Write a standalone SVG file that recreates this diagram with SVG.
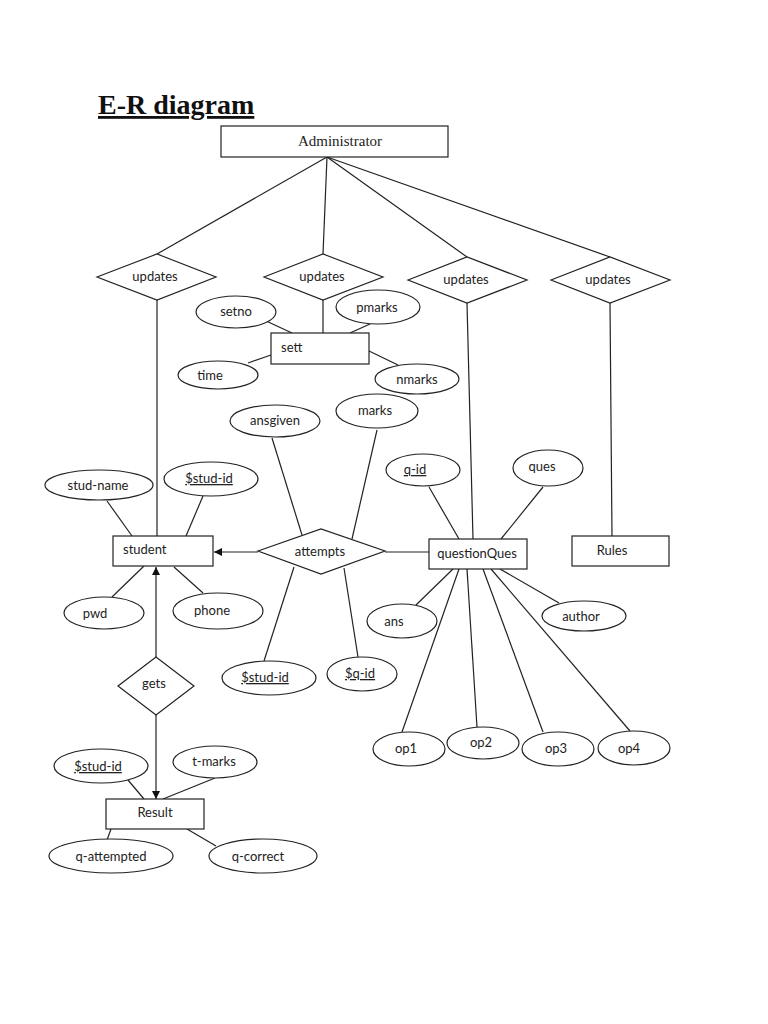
<svg xmlns="http://www.w3.org/2000/svg" width="768" height="1024" viewBox="0 0 768 1024">
<style>
.s{fill:#fff;stroke:#222;stroke-width:1.2}
.c line{stroke:#222;stroke-width:1.2}
.t{font-family:Lato,"Liberation Sans",sans-serif;font-size:13px;fill:#222;text-anchor:middle}
.u{text-decoration:underline}
.l{text-anchor:start}
</style>
<defs>
<marker id="ah" viewBox="0 0 10 10" refX="10" refY="5" markerWidth="8" markerHeight="8" markerUnits="userSpaceOnUse" orient="auto">
<path d="M0,0 L10,5 L0,10 Z" fill="#111"/>
</marker>
</defs>
<rect width="768" height="1024" fill="#fff"/>
<text x="98" y="114" font-family="'Liberation Serif',serif" font-weight="bold" font-size="28" text-decoration="underline" fill="#111">E-R diagram</text>

<g class="c" id="connectors">
<line x1="327" y1="157" x2="157" y2="254"/>
<line x1="327" y1="157" x2="323" y2="254"/>
<line x1="327" y1="157" x2="467" y2="257"/>
<line x1="327" y1="157" x2="610" y2="257"/>
<line x1="157" y1="300" x2="157" y2="536"/>
<line x1="323" y1="300" x2="323" y2="333"/>
<line x1="467" y1="303" x2="473" y2="539"/>
<line x1="610" y1="303" x2="612" y2="536"/>
<line x1="264" y1="320" x2="292" y2="333"/>
<line x1="350" y1="333" x2="370" y2="324"/>
<line x1="248" y1="363" x2="271" y2="355"/>
<line x1="369" y1="351" x2="398" y2="365"/>
<line x1="272" y1="438" x2="302" y2="535"/>
<line x1="377" y1="430" x2="352" y2="539"/>
<line x1="107" y1="501" x2="132" y2="536"/>
<line x1="203" y1="496" x2="186" y2="536"/>
<line x1="112" y1="597" x2="144" y2="566"/>
<line x1="174" y1="567" x2="203" y2="593"/>
<line x1="258" y1="552" x2="214" y2="552" marker-end="url(#ah)"/>
<line x1="385" y1="552" x2="429" y2="552"/>
<line x1="294" y1="567" x2="264" y2="661"/>
<line x1="344" y1="568" x2="358" y2="657"/>
<line x1="429" y1="487" x2="459" y2="539"/>
<line x1="543" y1="487" x2="501" y2="539"/>
<line x1="416" y1="605" x2="453" y2="569"/>
<line x1="500" y1="569" x2="559" y2="603"/>
<line x1="459" y1="569" x2="402" y2="732"/>
<line x1="467" y1="569" x2="477" y2="727"/>
<line x1="483" y1="569" x2="543" y2="732"/>
<line x1="491" y1="569" x2="630" y2="731"/>
<line x1="156" y1="657" x2="156" y2="567" marker-end="url(#ah)"/>
<line x1="156" y1="715" x2="156" y2="799" marker-end="url(#ah)"/>
<line x1="128" y1="780" x2="144" y2="799"/>
<line x1="215" y1="778" x2="163" y2="799"/>
<line x1="111" y1="829" x2="107" y2="840"/>
<line x1="187" y1="829" x2="216" y2="846"/>
</g>

<g id="administrator"><rect class="s" x="221" y="126" width="227" height="31"/><text x="340" y="146" font-family="'Liberation Serif',serif" font-size="15" text-anchor="middle" fill="#222">Administrator</text></g>

<g id="updates1"><polygon class="s" points="97,277 157,254 216,277 157,300"/><text class="t" x="155" y="281">updates</text></g>
<g id="updates2"><polygon class="s" points="264,277 323,254 383,277 323,300"/><text class="t" x="322" y="281">updates</text></g>
<g id="updates3"><polygon class="s" points="408,280 467,257 527,280 467,303"/><text class="t" x="466" y="284">updates</text></g>
<g id="updates4"><polygon class="s" points="551,280 610,257 670,280 610,303"/><text class="t" x="608" y="284">updates</text></g>

<g id="sett"><rect class="s" x="271" y="333" width="98" height="31"/><text class="t l" x="281" y="352">sett</text></g>
<g id="setno"><ellipse class="s" cx="236" cy="312" rx="40" ry="16"/><text class="t" x="236" y="316">setno</text></g>
<g id="pmarks"><ellipse class="s" cx="378" cy="307" rx="42" ry="17"/><text class="t" x="377" y="312">pmarks</text></g>
<g id="time"><ellipse class="s" cx="218" cy="375" rx="40" ry="14"/><text class="t" x="210" y="380">time</text></g>
<g id="nmarks"><ellipse class="s" cx="417" cy="379" rx="42" ry="15"/><text class="t" x="417" y="384">nmarks</text></g>

<g id="ansgiven"><ellipse class="s" cx="275" cy="421" rx="45" ry="16"/><text class="t" x="275" y="422" dy="3">ansgiven</text></g>
<g id="marks"><ellipse class="s" cx="377" cy="411" rx="41" ry="17"/><text class="t" x="375" y="415">marks</text></g>

<g id="student"><rect class="s" x="113" y="536" width="100" height="30"/><text class="t l" x="123" y="554">student</text></g>
<g id="stud-name"><ellipse class="s" cx="99" cy="485" rx="54" ry="15"/><text class="t" x="98" y="490">stud-name</text></g>
<g id="stud-id1"><ellipse class="s" cx="211" cy="479" rx="47" ry="17"/><text class="t u" x="209" y="483">$stud-id</text></g>
<g id="pwd"><ellipse class="s" cx="104" cy="613" rx="40" ry="16"/><text class="t" x="95" y="618">pwd</text></g>
<g id="phone"><ellipse class="s" cx="218" cy="611" rx="45" ry="18"/><text class="t" x="212" y="615">phone</text></g>

<g id="attempts"><polygon class="s" points="258,551 321,529 385,551 321,574"/><text class="t" x="320" y="556">attempts</text></g>
<g id="stud-id2"><ellipse class="s" cx="269" cy="678" rx="47" ry="17"/><text class="t u" x="265" y="682">$stud-id</text></g>
<g id="q-id2"><ellipse class="s" cx="362" cy="674" rx="35" ry="17"/><text class="t u" x="360" y="678">$q-id</text></g>

<g id="questionQues"><rect class="s" x="429" y="539" width="98" height="30"/><text class="t" x="477" y="558">questionQues</text></g>
<g id="q-id"><ellipse class="s" cx="423" cy="470" rx="37" ry="16"/><text class="t u" x="415" y="474">q-id</text></g>
<g id="ques"><ellipse class="s" cx="548" cy="468" rx="35" ry="18"/><text class="t" x="542" y="471">ques</text></g>
<g id="rules"><rect class="s" x="572" y="536" width="97" height="30"/><text class="t" x="612" y="555">Rules</text></g>
<g id="ans"><ellipse class="s" cx="402" cy="621" rx="35" ry="17"/><text class="t" x="394" y="626">ans</text></g>
<g id="author"><ellipse class="s" cx="584" cy="616" rx="42" ry="15"/><text class="t" x="581" y="621">author</text></g>
<g id="op1"><ellipse class="s" cx="409" cy="749" rx="36" ry="17"/><text class="t" x="406" y="753">op1</text></g>
<g id="op2"><ellipse class="s" cx="483" cy="743" rx="36" ry="16"/><text class="t" x="481" y="747">op2</text></g>
<g id="op3"><ellipse class="s" cx="558" cy="749" rx="36" ry="17"/><text class="t" x="556" y="753">op3</text></g>
<g id="op4"><ellipse class="s" cx="634" cy="748" rx="36" ry="17"/><text class="t" x="629" y="753">op4</text></g>

<g id="gets"><polygon class="s" points="118,686 156,657 194,686 156,715"/><text class="t" x="154" y="688">gets</text></g>
<g id="result"><rect class="s" x="106" y="799" width="98" height="30"/><text class="t" x="155" y="817">Result</text></g>
<g id="stud-id3"><ellipse class="s" cx="101" cy="766" rx="47" ry="17"/><text class="t u" x="98" y="771">$stud-id</text></g>
<g id="t-marks"><ellipse class="s" cx="215" cy="762" rx="42" ry="16"/><text class="t" x="214" y="766">t-marks</text></g>
<g id="q-attempted"><ellipse class="s" cx="111" cy="856" rx="62" ry="17"/><text class="t" x="111" y="861">q-attempted</text></g>
<g id="q-correct"><ellipse class="s" cx="263" cy="856" rx="54" ry="17"/><text class="t" x="258" y="861">q-correct</text></g>
</svg>
